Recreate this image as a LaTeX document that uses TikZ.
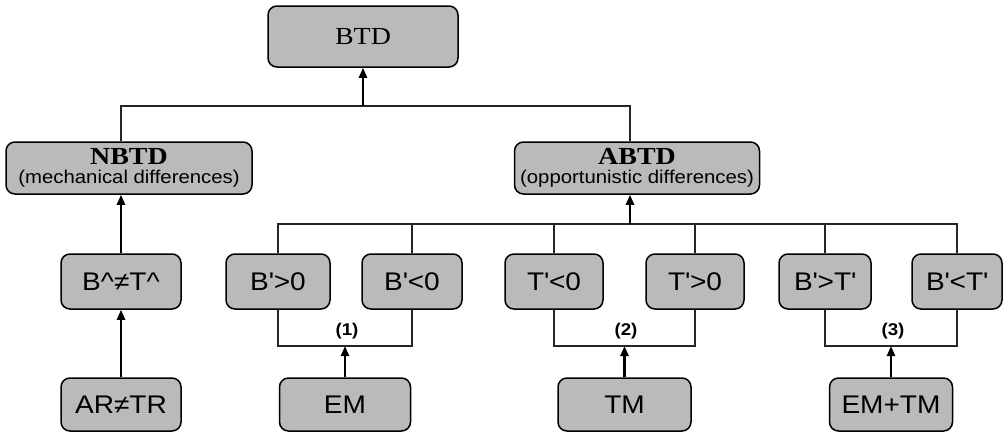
\documentclass[tikz,border=0pt]{standalone}
\usepackage{fontspec}
\setmainfont{Liberation Serif}[FakeStretch=1.14]
\setsansfont{Liberation Sans}[FakeStretch=1.1]
\usetikzlibrary{arrows.meta}
\begin{document}
\begin{tikzpicture}[x=1pt,y=-1pt,
  box/.style={draw=black, line width=1.5pt, fill=black!27, rounded corners=9pt,
    inner sep=0pt, align=center, font=\sffamily\fontsize{25.5}{28}\selectfont},
  toprow/.style={box, minimum height=55pt},
  botrow/.style={box, minimum height=53pt},
  link/.style={draw=black!85, line width=1.1pt},
  up/.style={line width=2.4pt, -{Triangle[length=10pt,width=8pt]}},
  tag/.style={font=\sffamily\bfseries\fontsize{17}{20}\selectfont, inner sep=0pt}]
\useasboundingbox (0,0) rectangle (1004,432);

% top level
\node[box, minimum width=190pt, minimum height=61pt,
  font=\rmfamily\fontsize{24.5}{26}\selectfont] (btd) at (363,36.5) {BTD};

% second level
\node[box, minimum width=246pt, minimum height=52pt,
  font=\sffamily\fontsize{18.5}{19}\selectfont] (nbtd) at (129,168)
  {{\rmfamily\bfseries\fontsize{24.5}{19}\selectfont NBTD}\\(mechanical differences)};
\node[box, minimum width=245pt, minimum height=52pt,
  font=\sffamily\fontsize{18.5}{19}\selectfont] (abtd) at (637,168)
  {{\rmfamily\bfseries\fontsize{24.5}{19}\selectfont ABTD}\\(opportunistic differences)};

% third level
\node[toprow, minimum width=120pt] (bhat) at (121,281.5) {B\textasciicircum{}≠T\textasciicircum};
\node[toprow, minimum width=104pt] (bpos) at (278,281.5) {B\textquotesingle{}>0};
\node[toprow, minimum width=100pt] (bneg) at (412,281.5) {B\textquotesingle{}<0};
\node[toprow, minimum width=98pt]  (tneg) at (554,281.5) {T\textquotesingle{}<0};
\node[toprow, minimum width=98pt]  (tpos) at (695,281.5) {T\textquotesingle{}>0};
\node[toprow, minimum width=92pt]  (bgt)  at (825,281.5) {B\textquotesingle{}>T\textquotesingle};
\node[toprow, minimum width=90pt]  (blt)  at (957,281.5) {B\textquotesingle{}<T\textquotesingle};

% bottom level
\node[botrow, minimum width=120pt] (artr) at (121,404.5) {AR≠TR};
\node[botrow, minimum width=131pt] (em)   at (345,404.5) {EM};
\node[botrow, minimum width=133pt] (tm)   at (624.5,404.5) {TM};
\node[botrow, minimum width=123pt] (emtm) at (891,404.5) {EM+TM};

% junctions
\coordinate (j0) at (363,106);
\coordinate (j1) at (630,224);
\coordinate (g1) at (345,346);
\coordinate (g2) at (624.5,346);
\coordinate (g3) at (891,346);

% BTD branch
\draw[link] ([xshift=-8pt]nbtd.north) |- (j0) -| ([xshift=-7pt]abtd.north);
\draw[up] (j0) -- (btd.south);

% NBTD chain
\draw[up] (bhat.north) -- ([xshift=-8pt]nbtd.south);
\draw[up] (artr.north) -- (bhat.south);

% ABTD branch
\draw[link] (bpos.north) |- (j1) -| (blt.north);
\foreach \n in {bneg,tneg,tpos,bgt} \draw[link] (\n.north) -- (\n.north |- j1);
\draw[up] (j1) -- ([xshift=-7pt]abtd.south);

% the three pairs
\draw[link] (bpos.south) |- (g1) -| (bneg.south);
\draw[link] (tneg.south) |- (g2) -| (tpos.south);
\draw[link] (bgt.south)  |- (g3) -| (blt.south);
\draw[up] (em.north) -- (g1);
\draw[up] (tm.north) -- (g2);
\draw[up] (emtm.north) -- (g3);

\node[tag] (l1) at (347,331) {(1)};
\node[tag] (l2) at (626,331) {(2)};
\node[tag] (l3) at (893,331) {(3)};
\end{tikzpicture}
\end{document}
